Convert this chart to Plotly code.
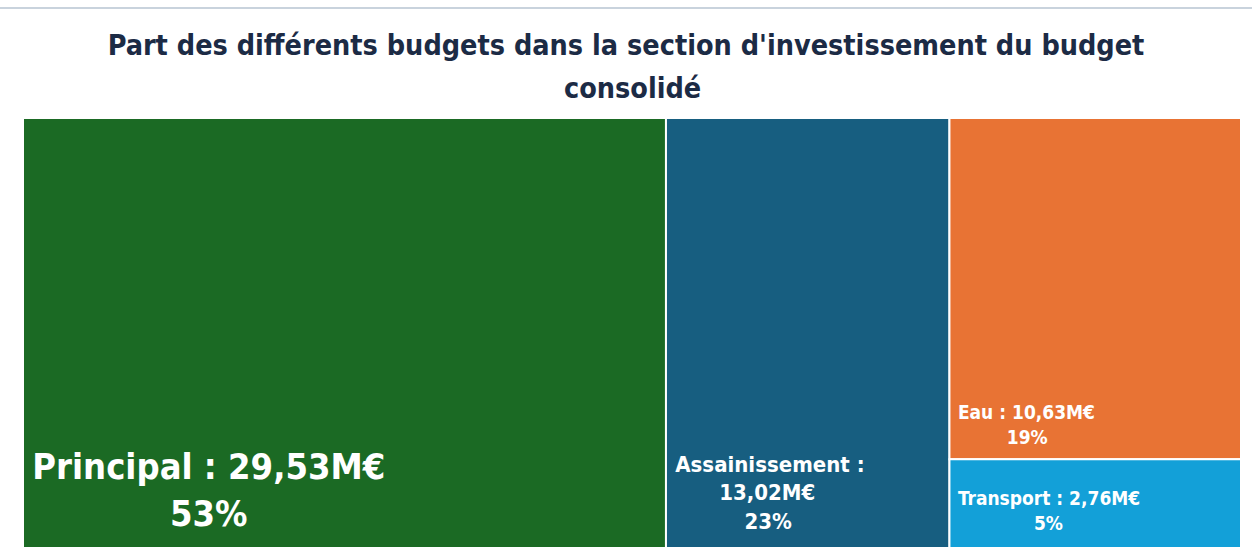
import plotly.graph_objects as go

labels = ["Principal", "Assainissement", "Eau", "Transport"]
values = [29.53, 13.02, 10.63, 2.76]
amount_text = ["29,53M€", "13,02M€", "10,63M€", "2,76M€"]
pct_text = ["53%", "23%", "19%", "5%"]
colors = ["#1B6A24", "#175E80", "#E87334", "#13A0D8"]
font_sizes = [36, 22, 19, 19]

NB = "\u00a0"
texts = [
    "<span style='font-size:22px'>" + NB + "</span><b>Principal : 29,53M€</b><br>" + NB * 14 + "<b>53%</b>",
    NB + "<b>Assainissement :</b><br>" + NB * 8 + "<b>13,02M€</b><br>" + NB * 12 + "<b>23%</b>",
    NB + "<b>Eau : 10,63M€</b><br>" + NB * 10 + "<b>19%</b>",
    NB + "<b>Transport : 2,76M€</b><br>" + NB * 15 + "<b>5%</b>",
]

FONT = "Liberation Sans Narrow, DejaVu Sans Condensed, sans-serif"

# coloured tiles
fig = go.Figure(go.Treemap(
    labels=labels,
    parents=[""] * len(labels),
    values=values,
    textinfo="none",
    marker=dict(colors=colors, line=dict(color="white", width=2), pad=dict(t=0, l=0, r=0, b=0)),
    tiling=dict(pad=0),
    pathbar=dict(visible=False),
    sort=True,
    hoverinfo="label+value",
    domain=dict(x=[0, 1], y=[0, 1]),
))

# labels (same data, laid out slightly above the bottom edge for padding)
fig.add_trace(go.Treemap(
    labels=labels,
    parents=[""] * len(labels),
    values=values,
    text=texts,
    texttemplate="%{text}",
    textposition="bottom left",
    textfont=dict(family=FONT, color="white", size=font_sizes),
    marker=dict(colors=["rgba(0,0,0,0)"] * len(labels), line=dict(width=0),
                pad=dict(t=0, l=0, r=0, b=0)),
    tiling=dict(pad=0),
    pathbar=dict(visible=False),
    sort=True,
    hoverinfo="skip",
    domain=dict(x=[0, 1], y=[11 / 430, 1]),
))

fig.update_layout(
    width=1252, height=557,
    margin=dict(l=23, r=11, t=118, b=9),
    paper_bgcolor="white",
    title=dict(
        text="<b>Part des différents budgets dans la section d'investissement du budget</b>",
        x=0.5, xanchor="center", yref="container", y=1 - 45 / 557, yanchor="middle",
        font=dict(family=FONT, size=28.5, color="#1C2B45"),
    ),
    annotations=[dict(
        text="<b>consolidé</b>", xref="paper", yref="paper", x=0.5, xanchor="center",
        y=(557 - 9 - 88) / (557 - 118 - 9), yanchor="middle", showarrow=False,
        font=dict(family=FONT, size=28.5, color="#1C2B45"),
    )],
    shapes=[dict(type="line", xref="paper", yref="paper", x0=-0.02, x1=1.02, y0=1.256, y1=1.256,
                 line=dict(color="#C9D3DD", width=2))],
)

fig.write_html("out.html")
